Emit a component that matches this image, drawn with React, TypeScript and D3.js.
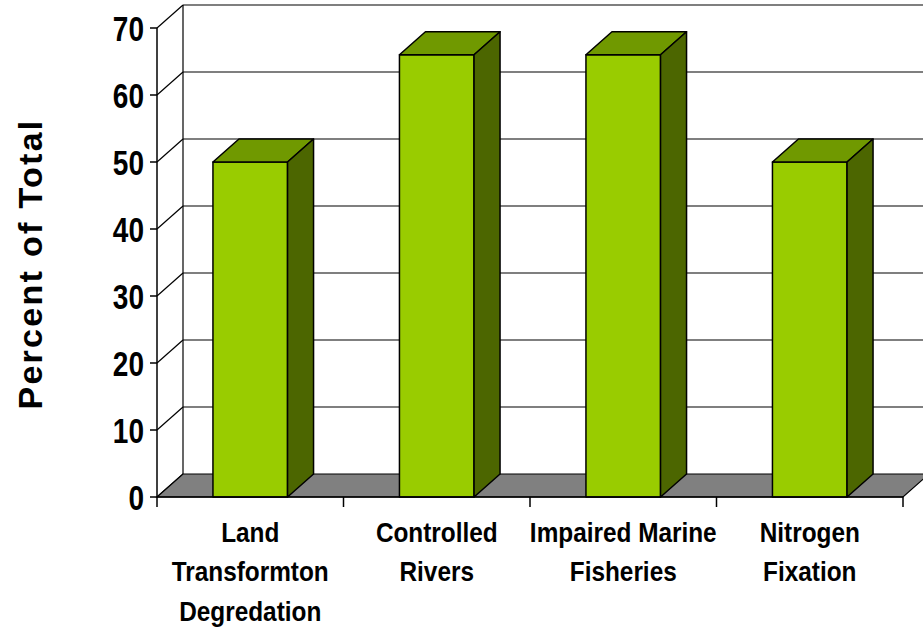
import { useEffect, useRef } from "react";
import * as d3 from "d3";

const categories = [
  ["Land", "Transformton", "Degredation"],
  ["Controlled", "Rivers"],
  ["Impaired Marine", "Fisheries"],
  ["Nitrogen", "Fixation"],
];
const percents = [50, 66, 66, 50];
const yTicks = [0, 10, 20, 30, 40, 50, 60, 70];

const W = 923;
const H = 630;
// depth of the fake 3d box
const DX = 26;
const DY = -23;

// no Arial Narrow here, so squeeze Liberation Sans sideways
const SANS = "'Liberation Sans', Arial, sans-serif";

export default function App(): JSX.Element {
  const ref = useRef<SVGSVGElement | null>(null);

  useEffect(() => {
    if (!ref.current) return;
    const svg = d3.select(ref.current);
    svg.selectAll("*").remove();

    const x = d3
      .scaleBand<number>()
      .domain(d3.range(categories.length))
      .range([157, 903]);
    const y = d3.scaleLinear().domain([0, 70]).range([497, 28]);
    const y0 = y(0);
    const xl = 157;
    const xr = 903;

    // back wall gridlines + left wall diagonals
    const grid = svg.append("g").attr("stroke", "#000").attr("stroke-width", 1.2).attr("fill", "none");
    yTicks.forEach((t) => {
      if (t > 0) {
        grid
          .append("line")
          .attr("x1", xl + DX)
          .attr("x2", W + 10)
          .attr("y1", y(t) + DY)
          .attr("y2", y(t) + DY);
      }
      grid
        .append("line")
        .attr("x1", xl)
        .attr("y1", y(t))
        .attr("x2", xl + DX)
        .attr("y2", y(t) + DY);
    });
    grid
      .append("line")
      .attr("x1", xl + DX)
      .attr("x2", xl + DX)
      .attr("y1", y(70) + DY)
      .attr("y2", y0 + DY);

    // floor
    svg
      .append("path")
      .attr(
        "d",
        `M${xl},${y0}L${xl + DX},${y0 + DY}L${xr + DX},${y0 + DY}L${xr},${y0}Z`,
      )
      .attr("fill", "#808080")
      .attr("stroke", "#000")
      .attr("stroke-width", 1.2);

    // bars
    const bw = x.step() * 0.4;
    const bars = svg
      .append("g")
      .attr("stroke", "#000")
      .attr("stroke-width", 1.5)
      .attr("stroke-linejoin", "round")
      .selectAll("g")
      .data(percents)
      .join("g");
    bars.each(function (v, i) {
      const g = d3.select(this);
      const cx = (x(i) ?? 0) + x.bandwidth() / 2;
      const a = cx - bw / 2;
      const b = cx + bw / 2;
      const top = y(v);
      g.append("rect")
        .attr("x", a)
        .attr("y", top)
        .attr("width", bw)
        .attr("height", y0 - top)
        .attr("fill", "#99cc00");
      g.append("path")
        .attr("d", `M${a},${top}L${a + DX},${top + DY}L${b + DX},${top + DY}L${b},${top}Z`)
        .attr("fill", "#709900");
      g.append("path")
        .attr("d", `M${b},${top}L${b + DX},${top + DY}L${b + DX},${y0 + DY}L${b},${y0}Z`)
        .attr("fill", "#4c6600");
    });

    // axes
    const axes = svg.append("g").attr("stroke", "#000").attr("stroke-width", 1.5);
    axes.append("line").attr("x1", xl).attr("x2", xl).attr("y1", y(70)).attr("y2", y0);
    axes.append("line").attr("x1", xl).attr("x2", xr).attr("y1", y0).attr("y2", y0);
    yTicks.forEach((t) => {
      axes.append("line").attr("x1", xl - 7).attr("x2", xl).attr("y1", y(t)).attr("y2", y(t));
    });
    d3.range(categories.length + 1).forEach((i) => {
      const tx = i < categories.length ? x(i) ?? 0 : xr;
      axes.append("line").attr("x1", tx).attr("x2", tx).attr("y1", y0).attr("y2", y0 + 10);
    });

    svg
      .append("g")
      .attr("font-family", SANS)
      .attr("font-weight", "bold")
      .attr("font-size", 35)
      .attr("text-anchor", "end")
      .selectAll("text")
      .data(yTicks)
      .join("text")
      .attr("transform", (d) => `translate(144,${y(d)}) scale(0.8,1)`)
      .attr("dy", "0.36em")
      .text((d) => d);

    const labels = svg
      .append("g")
      .attr("font-family", SANS)
      .attr("font-weight", "bold")
      .attr("font-size", 28)
      .attr("text-anchor", "middle")
      .selectAll("text")
      .data(categories)
      .join("text")
      .attr("transform", (_, i) => `translate(${(x(i) ?? 0) + x.bandwidth() / 2},542) scale(0.87,1)`);
    labels
      .selectAll("tspan")
      .data((d) => d)
      .join("tspan")
      .attr("x", 0)
      .attr("y", (_, j) => j * 39.5)
      .text((d) => d);

    svg
      .append("text")
      .attr("transform", "translate(42,264) rotate(-90)")
      .attr("text-anchor", "middle")
      .attr("font-family", SANS)
      .attr("font-weight", "bold")
      .attr("font-size", 34)
      .attr("letter-spacing", 2.3)
      .text("Percent of Total");
  }, []);

  return (
    <div style={{ position: "absolute", left: 0, top: 0, width: W, height: H, background: "#fff" }}>
      <svg ref={ref} width={W} height={H} style={{ display: "block" }} />
    </div>
  );
}
